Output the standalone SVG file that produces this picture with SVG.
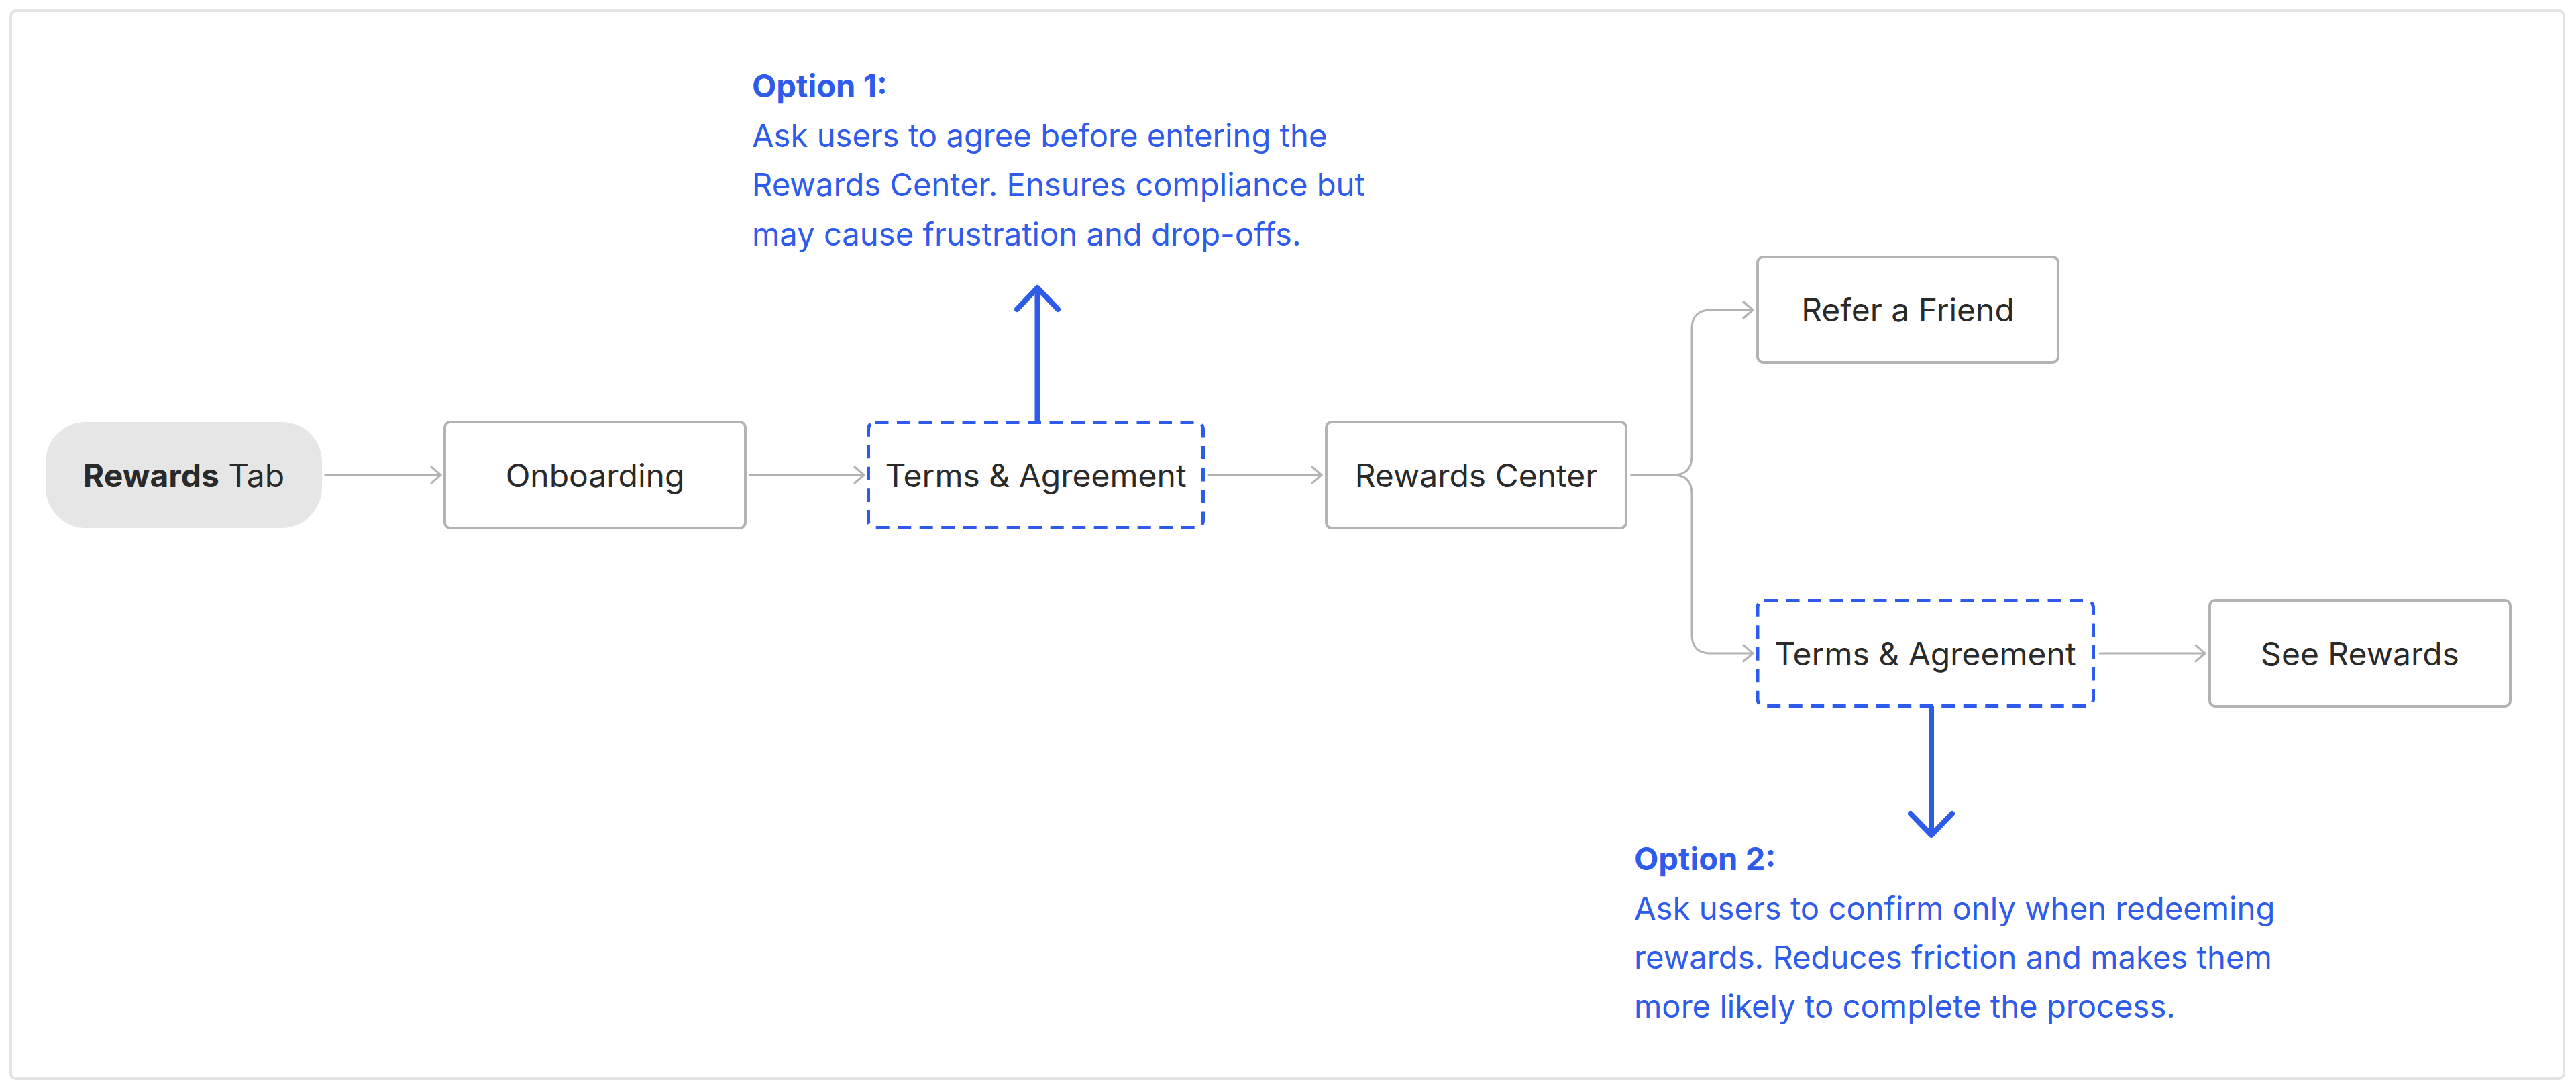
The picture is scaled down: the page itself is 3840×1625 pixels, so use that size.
<svg xmlns="http://www.w3.org/2000/svg" width="3840" height="1625" viewBox="0 0 3840 1625">
<defs>
<style>
.box{fill:#ffffff;stroke:#b3b3b3;stroke-width:4}
.dash{fill:#ffffff;stroke:#2e5bea;stroke-width:5;stroke-dasharray:20 12.5}
.lbl{font-family:Inter,"Noto Sans","Liberation Sans",sans-serif;font-size:48px;fill:#2a2a2a;text-anchor:middle}
.opt{font-family:Inter,"Noto Sans","Liberation Sans",sans-serif;font-size:47.2px;fill:#2e5bea}
.b{font-weight:700}
.con{fill:none;stroke:#b3b3b3;stroke-width:3;stroke-linecap:round;stroke-linejoin:round}
.blue{fill:none;stroke:#2e5bea;stroke-width:8;stroke-linecap:round;stroke-linejoin:round}
</style>
<marker id="ah" viewBox="-16 -14 20 28" markerWidth="20" markerHeight="28" refX="0" refY="0" orient="auto" markerUnits="userSpaceOnUse">
<path d="M-14,-12 L0,0 L-14,12" fill="none" stroke="#b3b3b3" stroke-width="3" stroke-linecap="round" stroke-linejoin="round"/>
</marker>
</defs>
<rect x="16" y="16" width="3806" height="1592" rx="8" fill="#ffffff" stroke="#e3e3e3" stroke-width="4"/>
<g id="connectors">
<path class="con" d="M485,708 H657" marker-end="url(#ah)"/>
<path class="con" d="M1118,708 H1288" marker-end="url(#ah)"/>
<path class="con" d="M1802,708 H1970" marker-end="url(#ah)"/>
<path class="con" d="M2432,708 H2494 Q2522,708 2522,680 V490 Q2522,462 2550,462 H2613" marker-end="url(#ah)"/>
<path class="con" d="M2432,708 H2494 Q2522,708 2522,736 V946 Q2522,974 2550,974 H2613" marker-end="url(#ah)"/>
<path class="con" d="M3130,974 H3287" marker-end="url(#ah)"/>
<path class="blue" d="M1546.5,628 V430 M1516,461 L1546.5,429 L1577,461"/>
<path class="blue" d="M2879,1054 V1244 M2848,1213 L2879,1245 L2910,1213"/>
</g>
<g id="rewards-tab">
<rect x="68" y="629" width="412" height="158" rx="60" fill="#e6e6e6"/>
<text class="lbl" x="274" y="725.5"><tspan class="b">Rewards</tspan> Tab</text>
</g>
<g id="onboarding">
<rect class="box" x="663" y="629" width="448" height="158" rx="8"/>
<text class="lbl" x="887" y="725.5">Onboarding</text>
</g>
<g id="terms-1">
<rect class="dash" x="1294.5" y="629.5" width="499" height="157" rx="10"/>
<text class="lbl" x="1544" y="725.5">Terms &amp; Agreement</text>
</g>
<g id="rewards-center">
<rect class="box" x="1977" y="629" width="447" height="158" rx="8"/>
<text class="lbl" x="2200.5" y="725.5">Rewards Center</text>
</g>
<g id="refer-friend">
<rect class="box" x="2620" y="383" width="448" height="157" rx="8"/>
<text class="lbl" x="2844" y="479">Refer a Friend</text>
</g>
<g id="terms-2">
<rect class="dash" x="2620" y="895.5" width="500.5" height="157" rx="10"/>
<text class="lbl" x="2870" y="991.5">Terms &amp; Agreement</text>
</g>
<g id="see-rewards">
<rect class="box" x="3294" y="895" width="448" height="158" rx="8"/>
<text class="lbl" x="3518" y="991.5">See Rewards</text>
</g>
<g id="option-1">
<text class="opt b" x="1121" y="145">Option 1:</text>
<text class="opt" x="1121" y="218.5">Ask users to agree before entering the</text>
<text class="opt" x="1121" y="292">Rewards Center. Ensures compliance but</text>
<text class="opt" x="1121" y="365.5">may cause frustration and drop-offs.</text>
</g>
<g id="option-2">
<text class="opt b" x="2436" y="1296.5">Option 2:</text>
<text class="opt" x="2436" y="1370.5">Ask users to confirm only when redeeming</text>
<text class="opt" x="2436" y="1444">rewards. Reduces friction and makes them</text>
<text class="opt" x="2436" y="1517">more likely to complete the process.</text>
</g>
</svg>
